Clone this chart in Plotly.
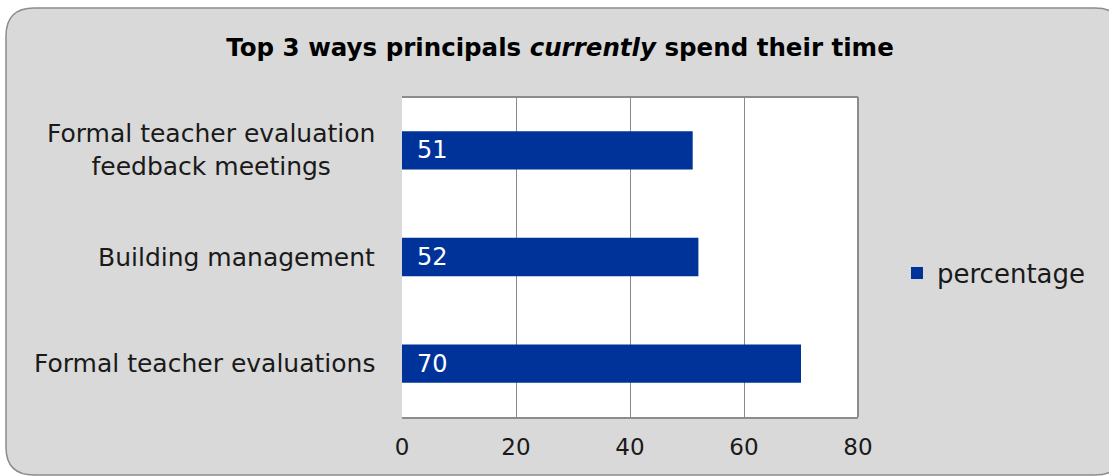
import plotly.graph_objects as go

# Survey results (top to bottom)
categories = [
    "Formal teacher evaluation<br>feedback meetings",
    "Building management",
    "Formal teacher evaluations",
]
percentage = [51, 52, 70]
x_ticks = [0, 20, 40, 60, 80]

W, H = 1109, 476
ML, MR, MT, MB = 402, W - 858, 97, H - 417
PW, PH = W - ML - MR, H - MT - MB

FONT = "DejaVu Sans"
BAR = "#003399"
BG = "#d9d9d9"
EDGE = "#8c8c8c"


def px(x):
    return (x - ML) / PW


def py(y):
    return 1 - (y - MT) / PH


fig = go.Figure(
    go.Bar(
        y=categories,
        x=percentage,
        orientation="h",
        name="percentage",
        marker=dict(color=BAR, line=dict(width=0)),
        width=0.36,
        showlegend=True,
    )
)

# rounded chart frame
x0, y0, x1, y1, r = 6, 8, 1123, 475, 28
path = (
    f"M {px(x0 + r)},{py(y0)} L {px(x1 - r)},{py(y0)} "
    f"Q {px(x1)},{py(y0)} {px(x1)},{py(y0 + r)} "
    f"L {px(x1)},{py(y1 - r)} Q {px(x1)},{py(y1)} {px(x1 - r)},{py(y1)} "
    f"L {px(x0 + r)},{py(y1)} Q {px(x0)},{py(y1)} {px(x0)},{py(y1 - r)} "
    f"L {px(x0)},{py(y0 + r)} Q {px(x0)},{py(y0)} {px(x0 + r)},{py(y0)} Z"
)
shapes = [
    dict(type="path", xref="paper", yref="paper", path=path,
         fillcolor=BG, line=dict(color=EDGE, width=1.5), layer="below"),
    dict(type="rect", xref="paper", yref="paper", x0=0, x1=1, y0=0, y1=1,
         fillcolor="white", line=dict(width=0), layer="below"),
    dict(type="line", xref="paper", yref="paper", x0=0, x1=1, y0=1, y1=1,
         line=dict(color=EDGE, width=2)),
    dict(type="line", xref="paper", yref="paper", x0=1, x1=1, y0=0, y1=1,
         line=dict(color=EDGE, width=2)),
]

annotations = []
for cat, val in zip(categories, percentage):
    annotations.append(dict(
        xref="paper", yref="y", x=0, y=cat, xanchor="right", yanchor="middle",
        xshift=-25, text=cat, showarrow=False, align="center",
        font=dict(family=FONT, size=25, color="#1a1a1a"),
    ))
    annotations.append(dict(
        xref="x", yref="y", x=0, y=cat, xanchor="left", yanchor="middle",
        xshift=13, text=str(val), showarrow=False,
        font=dict(family=FONT, size=24, color="white"),
    ))

fig.update_layout(
    width=W, height=H,
    margin=dict(l=ML, r=MR, t=MT, b=MB, pad=0),
    paper_bgcolor="white",
    plot_bgcolor="rgba(0,0,0,0)",
    title=dict(
        text="<b>Top 3 ways principals <i>currently</i> spend their time</b>",
        xref="container", x=560 / W, xanchor="center",
        yref="container", y=1 - 47 / H, yanchor="middle",
        font=dict(family=FONT, size=24.5, color="black"),
    ),
    xaxis=dict(
        range=[0, 80], tickvals=x_ticks, showgrid=True, gridcolor="#8a8a8a",
        gridwidth=1, zeroline=False, showline=True, linecolor=EDGE, linewidth=2,
        ticks="outside", ticklen=8, tickcolor="rgba(0,0,0,0)",
        tickfont=dict(family=FONT, size=23, color="#1a1a1a"),
    ),
    yaxis=dict(
        autorange="reversed", showticklabels=False, showgrid=False,
        zeroline=False, showline=False,
    ),
    legend=dict(
        x=px(897), y=py(273), xanchor="left", yanchor="middle",
        bgcolor="rgba(0,0,0,0)", font=dict(family=FONT, size=26, color="#1a1a1a"),
        itemwidth=30,
    ),
    shapes=shapes,
    annotations=annotations,
    bargap=0.64,
)

fig.write_html("out.html")
